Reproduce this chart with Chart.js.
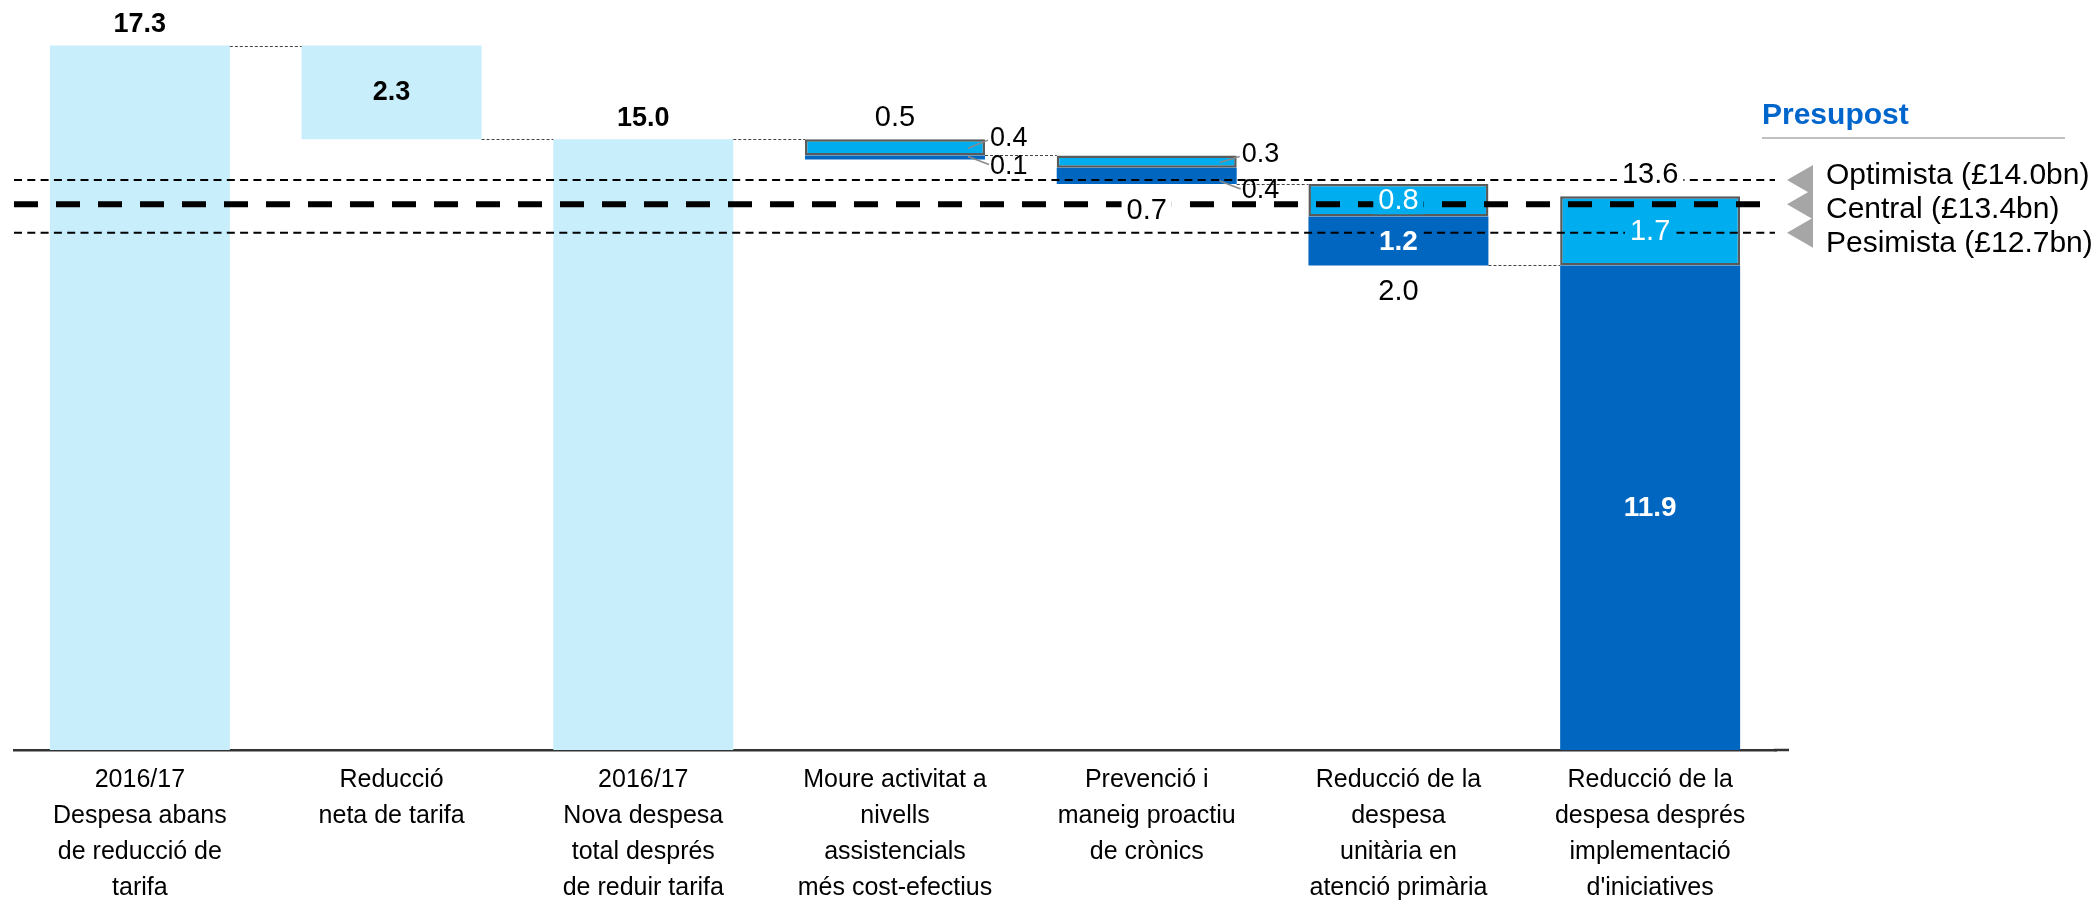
<!DOCTYPE html>
<html>
<head>
<meta charset="utf-8">
<title>Despesa i presupost</title>
<script src="https://cdn.jsdelivr.net/npm/chart.js@4/dist/chart.umd.min.js"></script>
<style>
  html, body { margin: 0; padding: 0; background: #ffffff; }
  #wrap { width: 2094px; height: 902px; }
</style>
</head>
<body>
<div id="wrap"><canvas id="chart" width="2094" height="902"></canvas></div>
<script>
// Categories (x axis, one line per array entry)
const categories = [
  ['2016/17', 'Despesa abans', 'de reducció de', 'tarifa'],
  ['Reducció', 'neta de tarifa'],
  ['2016/17', 'Nova despesa', 'total després', 'de reduir tarifa'],
  ['Moure activitat a', 'nivells', 'assistencials', 'més cost-efectius'],
  ['Prevenció i', 'maneig proactiu', 'de crònics'],
  ['Reducció de la', 'despesa', 'unitària en', 'atenció primària'],
  ['Reducció de la', 'despesa després', 'implementació', "d'iniciatives"]
];

// £bn values
const spendValues = [17.3, 2.3, 15.0, 0, 0, 0, 0];      // pale bars: totals and tariff step
const upperValues = [0, 0, 0, 0.4, 0.3, 0.8, 1.7];       // mid-blue segments
const lowerValues = [0, 0, 0, 0.1, 0.4, 1.2, 11.9];      // dark-blue segments
const barTops = [17.3, 17.3, 15.0, 15.0, 14.6, 13.9, 13.6];
const connectorLevels = [17.3, 15.0, 15.0, 14.6, 13.9, 11.9];
const totalPlacement = ['above', 'inside', 'above', 'above', 'below', 'below', 'above'];
const totalBold = [true, true, true, false, false, false, false];

// Budget scenarios
const budgetNames = ['Optimista', 'Central', 'Pesimista'];
const budgetValues = [14.0, 13.4, 12.7];
const budgetTitle = 'Presupost';

const COLORS = {
  pale: '#c8eefc',
  upper: '#00aeef',
  lower: '#0066bf',
  border: '#5a5a5a',
  title: '#0066cc',
  marker: '#a6a6a6'
};
const FONT = "'Liberation Sans', Arial, sans-serif";

const round1 = v => Math.round(v * 10) / 10;
const totals = categories.map((_, i) => round1(spendValues[i] + upperValues[i] + lowerValues[i]));
const baseValues = categories.map((_, i) => round1(barTops[i] - totals[i]));
const orNull = arr => arr.map(v => (v === 0 ? null : v));

function drawText(ctx, text, x, y, opts) {
  ctx.save();
  ctx.font = (opts.bold ? 'bold ' : '') + opts.size + 'px ' + FONT;
  ctx.textAlign = opts.align || 'center';
  ctx.textBaseline = 'middle';
  if (opts.bg) {
    const w = ctx.measureText(text).width;
    const left = ctx.textAlign === 'left' ? x : x - w / 2;
    ctx.fillStyle = opts.bg;
    ctx.fillRect(left - 5, y - opts.size * 0.45, w + 10, opts.size * 0.9);
  }
  ctx.fillStyle = opts.color || '#000';
  ctx.fillText(text, x, y);
  ctx.restore();
}

function dashedLine(ctx, x1, y1, x2, y2, width, dash, color) {
  ctx.save();
  ctx.beginPath();
  ctx.setLineDash(dash);
  ctx.lineWidth = width;
  ctx.strokeStyle = color;
  ctx.moveTo(x1, y1);
  ctx.lineTo(x2, y2);
  ctx.stroke();
  ctx.restore();
}

const overlay = {
  id: 'waterfallOverlay',
  afterDatasetsDraw(chart) {
    const { ctx, chartArea, scales } = chart;
    const y = scales.y;
    const baseMeta = chart.getDatasetMeta(0);
    const bars = baseMeta.data.map(el => ({ left: el.x - el.width / 2, right: el.x + el.width / 2, cx: el.x }));

    // axis baseline runs a little past the last category
    ctx.save();
    ctx.strokeStyle = '#333';
    ctx.lineWidth = 2.5;
    ctx.beginPath();
    ctx.moveTo(chartArea.right - 2, chartArea.bottom);
    ctx.lineTo(chartArea.right + 13, chartArea.bottom);
    ctx.stroke();
    ctx.restore();

    // connectors between consecutive bars
    connectorLevels.forEach((lvl, i) => {
      const py = Math.round(y.getPixelForValue(lvl)) + 0.5;
      dashedLine(ctx, bars[i].right, py, bars[i + 1].left, py, 1.2, [3, 2], '#444');
    });

    // budget scenario lines
    budgetValues.forEach((v, i) => {
      const py = y.getPixelForValue(v);
      const central = i === 1;
      dashedLine(ctx, chartArea.left, py, chartArea.right - 1, py,
        central ? 6 : 2, central ? [24, 18] : [8, 5.3], '#000');
    });

    // segment labels
    categories.forEach((_, i) => {
      const b = bars[i];
      const top = y.getPixelForValue(barTops[i]);
      const bottom = y.getPixelForValue(baseValues[i]);
      if (upperValues[i] || lowerValues[i]) {
        const splitPx = y.getPixelForValue(baseValues[i] + lowerValues[i]);
        const upperH = splitPx - top;
        if (upperH < 30) {
          // small segments: labels beside the bar with leader lines
          const uy = top - 1;
          const ly = bottom + 7;
          ctx.save();
          ctx.strokeStyle = '#8a8a8a';
          ctx.lineWidth = 1.5;
          ctx.beginPath();
          ctx.moveTo(b.right - 17, (top + splitPx) / 2 + 1);
          ctx.lineTo(b.right + 3, uy + 2);
          ctx.moveTo(b.right - 17, Math.max(splitPx, bottom - 3));
          ctx.lineTo(b.right + 4, ly - 2);
          ctx.stroke();
          ctx.restore();
          drawText(ctx, upperValues[i].toFixed(1), b.right + 5, uy, { size: 27, align: 'left' });
          drawText(ctx, lowerValues[i].toFixed(1), b.right + 5, ly, { size: 27, align: 'left' });
        } else {
          drawText(ctx, upperValues[i].toFixed(1), b.cx, (top + splitPx) / 2 + 1,
            { size: 29, color: '#fff', bg: COLORS.upper });
          drawText(ctx, lowerValues[i].toFixed(1), b.cx, (splitPx + bottom) / 2 + 1,
            { size: 28, bold: true, color: '#fff', bg: COLORS.lower });
        }
      }
      // totals
      const txt = totals[i].toFixed(1);
      const bold = totalBold[i];
      const size = bold ? 27 : 29;
      const place = totalPlacement[i];
      if (place === 'above') {
        drawText(ctx, txt, b.cx, top - 21, { size, bold, bg: bold ? null : '#fff' });
      } else if (place === 'below') {
        drawText(ctx, txt, b.cx, bottom + 27, { size, bold, bg: '#fff' });
      } else {
        drawText(ctx, txt, b.cx, (top + bottom) / 2, { size, bold });
      }
    });

    // budget legend
    const r = chartArea.right;
    const optPx = y.getPixelForValue(budgetValues[0]);
    drawText(ctx, budgetTitle, r - 14, optPx - 64,
      { size: 30, bold: true, color: COLORS.title, align: 'left' });
    ctx.save();
    ctx.strokeStyle = '#c0c0c0';
    ctx.lineWidth = 2;
    ctx.beginPath();
    ctx.moveTo(r - 14, optPx - 42);
    ctx.lineTo(r + 289, optPx - 42);
    ctx.stroke();
    ctx.restore();

    budgetValues.forEach(v => {
      const py = y.getPixelForValue(v);
      ctx.save();
      ctx.fillStyle = COLORS.marker;
      ctx.beginPath();
      ctx.moveTo(r + 11, py);
      ctx.lineTo(r + 37, py - 15);
      ctx.lineTo(r + 37, py + 15);
      ctx.closePath();
      ctx.fill();
      ctx.restore();
    });
    const rowY0 = optPx - 4;
    budgetNames.forEach((name, i) => {
      drawText(ctx, name + ' (£' + budgetValues[i].toFixed(1) + 'bn)', r + 50, rowY0 + i * 34,
        { size: 30, align: 'left' });
    });
  }
};

Chart.defaults.font.family = FONT;

new Chart(document.getElementById('chart'), {
  type: 'bar',
  data: {
    labels: categories,
    datasets: [
      { label: 'base', data: baseValues, backgroundColor: 'rgba(0,0,0,0)', borderWidth: 0 },
      { label: 'despesa', data: orNull(spendValues), backgroundColor: COLORS.pale, borderWidth: 0 },
      { label: 'inferior', data: orNull(lowerValues), backgroundColor: COLORS.lower, borderWidth: 0 },
      { label: 'superior', data: orNull(upperValues), backgroundColor: COLORS.upper,
        borderColor: COLORS.border, borderWidth: 2.5, borderSkipped: false }
    ]
  },
  options: {
    responsive: false,
    devicePixelRatio: 1,
    animation: false,
    layout: { padding: { left: 14, right: 318, top: 17, bottom: 0 } },
    datasets: { bar: { categoryPercentage: 1, barPercentage: 0.715 } },
    plugins: { legend: { display: false }, tooltip: { enabled: false } },
    scales: {
      x: {
        stacked: true,
        grid: { display: false, drawTicks: false },
        border: { display: true, color: '#333', width: 2.5 },
        ticks: {
          color: '#000',
          font: { size: 25, lineHeight: 1.44 },
          padding: 12,
          maxRotation: 0,
          autoSkip: false
        },
        afterFit(scale) { scale.height = 152; }
      },
      y: { stacked: true, display: false, min: 0, max: 18 }
    }
  },
  plugins: [overlay]
});
</script>
</body>
</html>
